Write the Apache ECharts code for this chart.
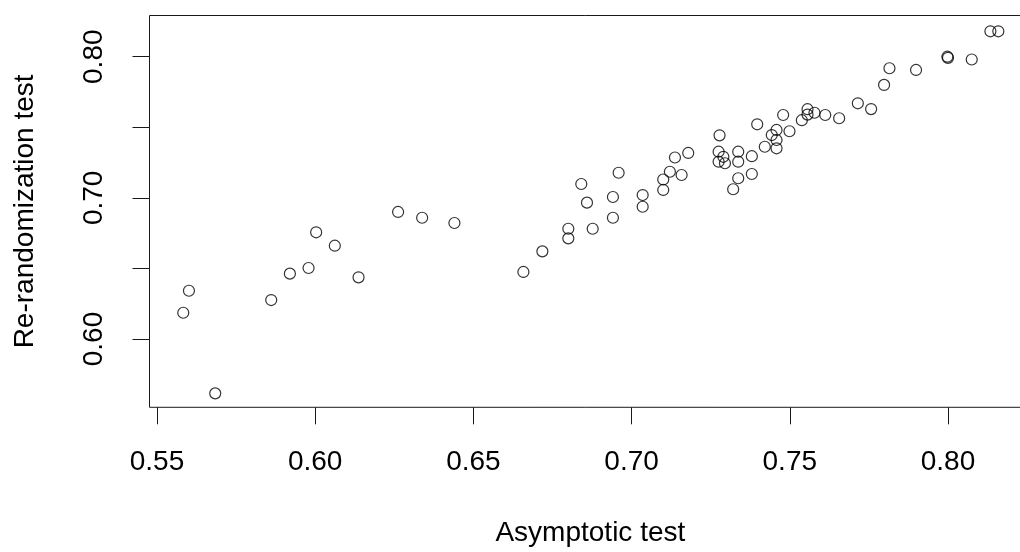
<!DOCTYPE html>
<html>
<head>
<meta charset="utf-8">
<script src="https://cdn.jsdelivr.net/npm/echarts@6/dist/echarts.min.js"></script>
<style>
  html, body { margin: 0; padding: 0; background: #fff; }
  #chart { width: 1020px; height: 552px; }
</style>
</head>
<body>
<div id="chart"></div>
<script>
// Power estimates: asymptotic test (x) vs re-randomization test (y)
const asymptotic = [
  0.5583, 0.5601, 0.5684, 0.5861, 0.5920, 0.5979, 0.6003, 0.6062, 0.6137, 0.6262,
  0.6338, 0.6440, 0.6658, 0.6718, 0.6800, 0.6800, 0.6841, 0.6859, 0.6877, 0.6941,
  0.6941, 0.6959, 0.7035, 0.7035, 0.7100, 0.7100, 0.7121, 0.7137, 0.7158, 0.7179,
  0.7278, 0.7275, 0.7275, 0.7290, 0.7295, 0.7337, 0.7337, 0.7380, 0.7337, 0.7380,
  0.7321, 0.7397, 0.7421, 0.7443, 0.7458, 0.7458, 0.7458, 0.7479, 0.7499, 0.7538,
  0.7556, 0.7556, 0.7578, 0.7612, 0.7656, 0.7715, 0.7757, 0.7798, 0.7815, 0.7899,
  0.7998, 0.8000, 0.8075, 0.8134, 0.8159
];
const rerandomization = [
  0.6186, 0.6342, 0.5615, 0.6276, 0.6463, 0.6503, 0.6756, 0.6661, 0.6437, 0.6900,
  0.6859, 0.6822, 0.6475, 0.6621, 0.6781, 0.6713, 0.7098, 0.6966, 0.6781, 0.7006,
  0.6859, 0.7178, 0.7020, 0.6937, 0.7130, 0.7056, 0.7185, 0.7286, 0.7162, 0.7318,
  0.7443, 0.7327, 0.7256, 0.7291, 0.7245, 0.7327, 0.7256, 0.7295, 0.7139, 0.7169,
  0.7061, 0.7521, 0.7362, 0.7445, 0.7481, 0.7410, 0.7351, 0.7587, 0.7472, 0.7550,
  0.7628, 0.7590, 0.7603, 0.7587, 0.7564, 0.7670, 0.7629, 0.7800, 0.7918, 0.7906,
  0.8000, 0.7992, 0.7980, 0.8180, 0.8180
];
const xTicks = [0.55, 0.60, 0.65, 0.70, 0.75, 0.80];
const yTicks = [0.60, 0.65, 0.70, 0.75, 0.80];
const yLabelTicks = [0.60, 0.70, 0.80];

const points = asymptotic.map((x, i) => [x, rerandomization[i]]);

const FONT = '"Liberation Sans", Arial, sans-serif';
const INK = '#000';

const chart = echarts.init(document.getElementById('chart'), null, { renderer: 'canvas' });
chart.setOption({
  animation: false,
  backgroundColor: '#fff',
  grid: {
    left: 149.5, top: 15.5, right: -11.2, bottom: 144.7,
    outerBoundsMode: 'none',
    show: true, borderColor: '#1a1a1a', borderWidth: 1, backgroundColor: 'transparent'
  },
  xAxis: {
    type: 'value',
    min: 0.54763, max: 0.826296,
    splitLine: { show: false },
    axisLine: { show: false },
    axisTick: {
      show: true, inside: false, length: 17, customValues: xTicks,
      lineStyle: { color: '#1a1a1a', width: 1 }
    },
    axisLabel: {
      show: true, customValues: xTicks, margin: 55,
      verticalAlign: 'middle', align: 'center',
      formatter: v => v.toFixed(2),
      color: INK, fontFamily: FONT, fontSize: 28
    },
    name: 'Asymptotic test',
    nameLocation: 'middle', nameGap: 126,
    nameTextStyle: { color: INK, fontFamily: FONT, fontSize: 28, verticalAlign: 'middle' }
  },
  yAxis: {
    type: 'value',
    min: 0.551612, max: 0.829189,
    splitLine: { show: false },
    axisLine: { show: false },
    axisTick: {
      show: true, inside: false, length: 17, customValues: yTicks,
      lineStyle: { color: '#1a1a1a', width: 1 }
    },
    axisLabel: {
      show: true, customValues: yLabelTicks, margin: 55, rotate: 90,
      verticalAlign: 'middle', align: 'center',
      formatter: v => v.toFixed(2),
      color: INK, fontFamily: FONT, fontSize: 28
    },
    name: 'Re-randomization test',
    nameLocation: 'middle', nameGap: 124, nameRotate: 90,
    nameTextStyle: { color: INK, fontFamily: FONT, fontSize: 28, verticalAlign: 'middle' }
  },
  series: [{
    type: 'scatter',
    data: points,
    symbol: 'circle',
    symbolSize: 11,
    itemStyle: { color: 'rgba(0,0,0,0)', borderColor: '#000', borderWidth: 1.2 },
    emphasis: { disabled: true }
  }]
});
</script>
</body>
</html>
